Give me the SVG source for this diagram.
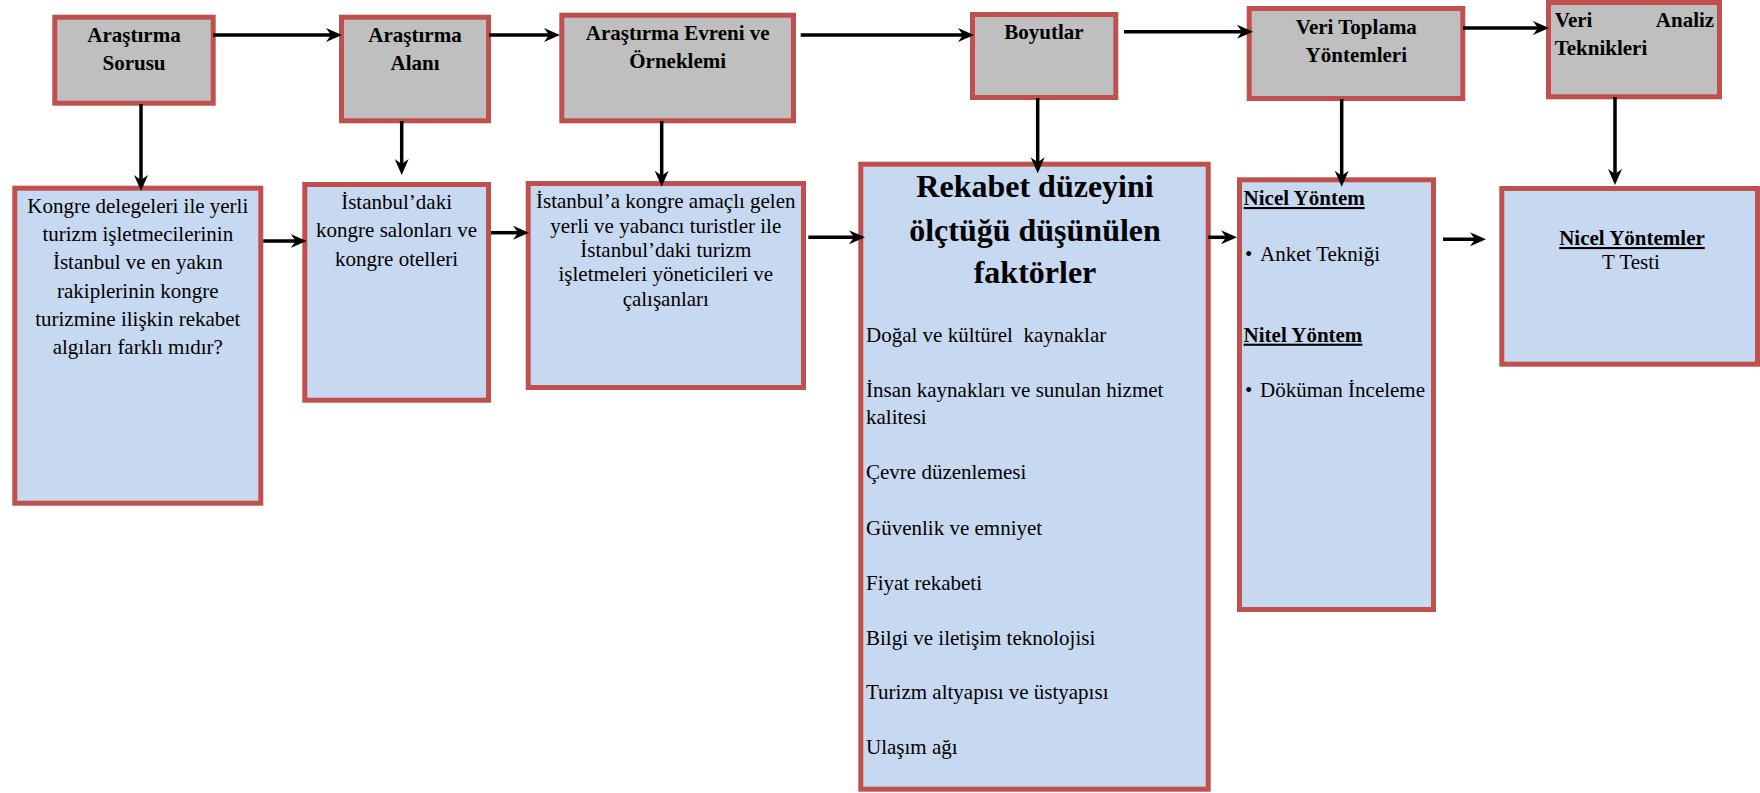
<svg xmlns="http://www.w3.org/2000/svg" width="1760" height="793" viewBox="0 0 1760 793">
<style>
.g{fill:#BFBFBF;stroke:#C0504D;stroke-width:5}
.b{fill:#C6D9F1;stroke:#C0504D;stroke-width:5}
text{font-family:"Liberation Serif","Times New Roman",serif;font-size:21px;fill:#000}
.h{font-weight:bold}
.c{text-anchor:middle}
.u{text-decoration:underline}
.t{font-size:32px;font-weight:bold;text-anchor:middle}
.pre{white-space:pre}
#connectors line{stroke:#000;stroke-width:3.5;fill:none;marker-end:url(#ah)}
</style>
<defs>
<marker id="ah" markerUnits="userSpaceOnUse" viewBox="0 0 16 14" refX="8" refY="7" markerWidth="16" markerHeight="14" orient="auto">
<path d="M0,0 L16,7 L0,14 L5,7 Z" fill="#000"/>
</marker>
</defs>
<rect width="1760" height="793" fill="#fff"/>

<g id="n-sorusu">
<rect class="g" x="54.8" y="17.2" width="158.4" height="86"/>
<text class="h c" x="134" y="42.3">Araştırma</text>
<text class="h c" x="134" y="70">Sorusu</text>
</g>
<g id="n-alani">
<rect class="g" x="341.5" y="17.2" width="147" height="103.6"/>
<text class="h c" x="415" y="42.3">Araştırma</text>
<text class="h c" x="415" y="70">Alanı</text>
</g>
<g id="n-evreni">
<rect class="g" x="561.8" y="15.2" width="231.7" height="105.6"/>
<text class="h c" x="677.7" y="40">Araştırma Evreni ve</text>
<text class="h c" x="677.7" y="67.7">Örneklemi</text>
</g>
<g id="n-boyutlar">
<rect class="g" x="972.5" y="14.5" width="143.3" height="83"/>
<text class="h c" x="1044" y="39">Boyutlar</text>
</g>
<g id="n-veritoplama">
<rect class="g" x="1249.2" y="8.5" width="213.6" height="90"/>
<text class="h c" x="1356.3" y="34">Veri Toplama</text>
<text class="h c" x="1356.3" y="61.7">Yöntemleri</text>
</g>
<g id="n-verianaliz">
<rect class="g" x="1548.5" y="2.5" width="171" height="94.3"/>
<text class="h" x="1554.7" y="26.7">Veri</text>
<text class="h" x="1714.2" y="26.7" text-anchor="end">Analiz</text>
<text class="h" x="1554.7" y="55">Teknikleri</text>
</g>

<g id="n-kongre">
<rect class="b" x="14.8" y="188.2" width="246" height="315"/>
<text class="c" x="137.8" y="212.7">Kongre delegeleri ile yerli</text>
<text class="c" x="137.8" y="241">turizm işletmecilerinin</text>
<text class="c" x="137.8" y="269.3">İstanbul ve en yakın</text>
<text class="c" x="137.8" y="297.6">rakiplerinin kongre</text>
<text class="c" x="137.8" y="325.9">turizmine ilişkin rekabet</text>
<text class="c" x="137.8" y="354.2">algıları farklı mıdır?</text>
</g>
<g id="n-istanbul">
<rect class="b" x="304.8" y="184.5" width="183.7" height="215.7"/>
<text class="c" x="396.6" y="209">İstanbul’daki</text>
<text class="c" x="396.6" y="237.4">kongre salonları ve</text>
<text class="c" x="396.6" y="265.8">kongre otelleri</text>
</g>
<g id="n-orneklem">
<rect class="b" x="528.2" y="183.5" width="275.3" height="204"/>
<text class="c" x="665.8" y="208.3">İstanbul’a kongre amaçlı gelen</text>
<text class="c" x="665.8" y="232.6">yerli ve yabancı turistler ile</text>
<text class="c" x="665.8" y="257">İstanbul’daki turizm</text>
<text class="c" x="665.8" y="281.3">işletmeleri yöneticileri ve</text>
<text class="c" x="665.8" y="305.7">çalışanları</text>
</g>
<g id="n-rekabet">
<rect class="b" x="860.8" y="164.2" width="347.4" height="625"/>
<text class="t" x="1035" y="197.3">Rekabet düzeyini</text>
<text class="t" x="1035" y="241">ölçtüğü düşünülen</text>
<text class="t" x="1035" y="283.3">faktörler</text>
<text class="pre" x="866" y="341.7">Doğal ve kültürel  kaynaklar</text>
<text x="866" y="396.7">İnsan kaynakları ve sunulan hizmet</text>
<text x="866" y="424">kalitesi</text>
<text x="866" y="479.3">Çevre düzenlemesi</text>
<text x="866" y="535">Güvenlik ve emniyet</text>
<text x="866" y="590">Fiyat rekabeti</text>
<text x="866" y="644.5">Bilgi ve iletişim teknolojisi</text>
<text x="866" y="699.3">Turizm altyapısı ve üstyapısı</text>
<text x="866" y="754.3">Ulaşım ağı</text>
</g>
<g id="n-yontem">
<rect class="b" x="1239.5" y="179.8" width="194" height="429.7"/>
<text class="h u" x="1243.6" y="205">Nicel Yöntem</text>
<text x="1245" y="260.7">•</text>
<text x="1260" y="260.7">Anket Tekniği</text>
<text class="h u" x="1243.6" y="341.7">Nitel Yöntem</text>
<text x="1245" y="397.3">•</text>
<text x="1260" y="397.3">Döküman İnceleme</text>
</g>
<g id="n-analiz">
<rect class="b" x="1501.8" y="188.5" width="255.7" height="175.7"/>
<text class="h u c" x="1632" y="245">Nicel Yöntemler</text>
<text class="c" x="1631" y="269">T Testi</text>
</g>

<g id="connectors">
<line x1="213" y1="35" x2="334" y2="35"/>
<line x1="489" y1="35" x2="552" y2="35"/>
<line x1="800.7" y1="35" x2="966" y2="35"/>
<line x1="1124" y1="31.7" x2="1245" y2="31.7"/>
<line x1="1463" y1="28" x2="1541" y2="28"/>
<line x1="141" y1="104" x2="141" y2="183"/>
<line x1="401.7" y1="121" x2="401.7" y2="167"/>
<line x1="661.7" y1="121" x2="661.7" y2="178.7"/>
<line x1="1037.7" y1="98" x2="1037.7" y2="165.3"/>
<line x1="1341.7" y1="99" x2="1341.7" y2="178.7"/>
<line x1="1615" y1="97" x2="1615" y2="177"/>
<line x1="263.3" y1="241" x2="298.7" y2="241"/>
<line x1="491" y1="232.7" x2="521" y2="232.7"/>
<line x1="808.3" y1="237.3" x2="857" y2="237.3"/>
<line x1="1208" y1="237.3" x2="1229" y2="237.3"/>
<line x1="1443" y1="239.3" x2="1478" y2="239.3"/>
</g>
</svg>
